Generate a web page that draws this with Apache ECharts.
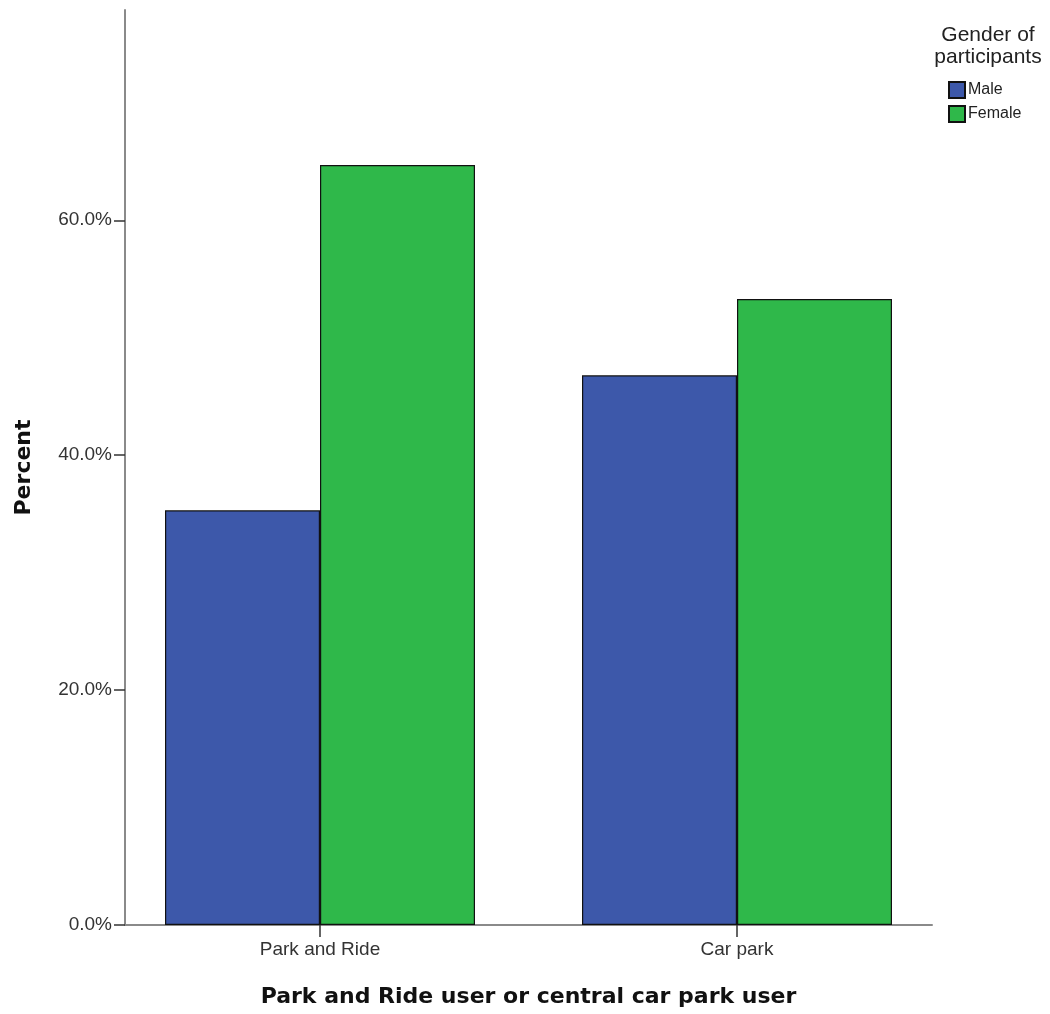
<!DOCTYPE html>
<html><head><meta charset="utf-8">
<script src="https://cdn.jsdelivr.net/npm/echarts@6/dist/echarts.min.js"></script>
<style>html,body{margin:0;padding:0;background:#fff}#c{width:1050px;height:1014px}</style>
</head><body><div id="c"></div>
<script>
const categories = ['Park and Ride', 'Car park'];
const seriesNames = ['Male', 'Female'];
const maleValues = [35.3, 46.8];
const femaleValues = [64.7, 53.3];
const yTicks = [0, 20, 40, 60];
const legendTitle = 'Gender of\nparticipants';
const xTitle = 'Park and Ride user or central car park user';
const yTitle = 'Percent';

const colors = ['#3d58aa', '#2fb84a'];
const font = '"Liberation Sans", Arial, sans-serif';
const boldFont = '"DejaVu Sans", "Liberation Sans", sans-serif';
const chart = echarts.init(document.getElementById('c'), null, {renderer: 'canvas'});
const pad = 195 / 417;
function toPairs(vals) { return vals.map((v, i) => [i, v]); }
chart.setOption({
  animation: false,
  textStyle: {fontFamily: font},
  grid: {left: 125, right: 118, top: 10, bottom: 89, containLabel: false, outerBoundsMode: 'none'},
  graphic: [{
    type: 'text', x: 988, y: 24,
    style: {
      text: legendTitle, align: 'center', verticalAlign: 'top',
      font: '21px ' + font, lineHeight: 22, fill: '#222'
    }
  }],
  legend: {
    data: seriesNames,
    orient: 'vertical', left: 948, top: 81, padding: 0,
    itemWidth: 16, itemHeight: 16, itemGap: 6,
    icon: 'rect',
    textStyle: {fontSize: 16, color: '#222', padding: [0, 0, 0, -2], fontFamily: font}
  },
  xAxis: {
    type: 'value',
    min: -pad, max: 1 + pad,
    name: xTitle,
    nameLocation: 'middle', nameGap: 61,
    nameTextStyle: {fontSize: 22, fontWeight: 'bold', color: '#111', fontFamily: boldFont},
    splitLine: {show: false},
    axisLine: {show: true, onZero: false, lineStyle: {color: '#8a8a8a', width: 2}},
    axisTick: {show: true, customValues: [0, 1], length: 12, lineStyle: {color: '#333', width: 1.5}},
    axisLabel: {
      customValues: [0, 1], margin: 15, fontSize: 19, color: '#333',
      formatter: v => categories[Math.round(v)]
    }
  },
  yAxis: {
    type: 'value', min: 0, max: 77.9, interval: 20,
    name: yTitle, nameLocation: 'middle', nameGap: 90, nameRotate: 90,
    nameTextStyle: {fontSize: 22, fontWeight: 'bold', color: '#111', fontFamily: boldFont},
    splitLine: {show: false},
    axisLine: {show: true, onZero: false, lineStyle: {color: '#8a8a8a', width: 2}},
    axisTick: {show: true, customValues: yTicks, length: 11, lineStyle: {color: '#333', width: 1.5}},
    axisLabel: {
      customValues: yTicks, margin: 13, fontSize: 19, color: '#333',
      formatter: v => v.toFixed(1) + '%'
    }
  },
  series: [
    {name: seriesNames[0], type: 'bar', data: toPairs(maleValues), barWidth: 155, barGap: '0%',
     itemStyle: {color: colors[0], borderColor: '#111', borderWidth: 1.2}},
    {name: seriesNames[1], type: 'bar', data: toPairs(femaleValues), barWidth: 155, barGap: '0%',
     itemStyle: {color: colors[1], borderColor: '#111', borderWidth: 1.2}}
  ]
});
</script></body></html>
